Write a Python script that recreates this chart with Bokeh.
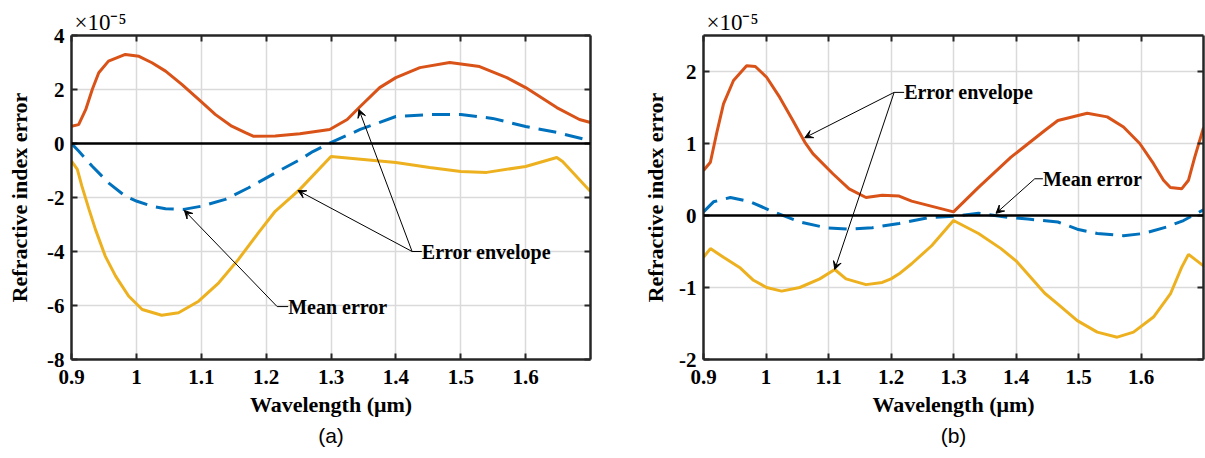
from bokeh.plotting import figure
from bokeh.layouts import row
from bokeh.models import (Range1d, FixedTicker, LinearAxis, Label, Arrow, VeeHead,
                          CustomJSTickFormatter, Span, Title)
from bokeh.embed import file_html
from bokeh.resources import INLINE

# ---------------- data (refractive index error in units of 1e-5) ----------------
x_ticks = [0.9, 1.0, 1.1, 1.2, 1.3, 1.4, 1.5, 1.6]
y_ticks_a = [-8, -6, -4, -2, 0, 2, 4]
y_ticks_b = [-2, -1, 0, 1, 2]

wl_a_upper = [0.900, 0.911, 0.922, 0.932, 0.942, 0.957, 0.983, 1.004, 1.024, 1.045, 1.070,
              1.096, 1.122, 1.147, 1.168, 1.180, 1.214, 1.252, 1.298, 1.325, 1.345, 1.375,
              1.400, 1.437, 1.483, 1.529, 1.571, 1.600, 1.648, 1.683, 1.700]
upper_a = [0.64, 0.70, 1.26, 2.00, 2.62, 3.05, 3.30, 3.23, 2.99, 2.68, 2.19,
           1.63, 1.07, 0.64, 0.40, 0.27, 0.28, 0.36, 0.52, 0.89, 1.37, 2.07,
           2.44, 2.81, 3.00, 2.85, 2.44, 2.07, 1.33, 0.89, 0.78]

wl_a_mean = [0.900, 0.911, 0.932, 0.957, 0.983, 1.001, 1.024, 1.045, 1.073, 1.101, 1.137,
             1.173, 1.214, 1.252, 1.272, 1.303, 1.345, 1.400, 1.452, 1.500, 1.549, 1.600,
             1.648, 1.700]
mean_a = [0.00, -0.28, -0.84, -1.46, -1.95, -2.14, -2.32, -2.42, -2.44, -2.32, -2.07,
          -1.64, -1.09, -0.60, -0.30, 0.07, 0.52, 1.00, 1.07, 1.07, 0.93, 0.63,
          0.41, 0.10]

wl_a_lower = [0.900, 0.909, 0.916, 0.927, 0.937, 0.952, 0.968, 0.988, 1.009, 1.039, 1.065,
              1.096, 1.127, 1.157, 1.188, 1.214, 1.252, 1.300, 1.400, 1.452, 1.500, 1.540,
              1.600, 1.648, 1.657, 1.700]
lower_a = [-0.65, -0.96, -1.58, -2.44, -3.19, -4.17, -4.91, -5.65, -6.15, -6.36, -6.27,
           -5.84, -5.16, -4.30, -3.31, -2.51, -1.70, -0.48, -0.70, -0.89, -1.04, -1.07,
           -0.85, -0.52, -0.67, -1.78]

wl_b_upper = [0.900, 0.911, 0.922, 0.932, 0.948, 0.969, 0.983, 1.001, 1.022, 1.043, 1.062,
              1.075, 1.107, 1.133, 1.160, 1.186, 1.213, 1.233, 1.300, 1.340, 1.392, 1.446,
              1.467, 1.514, 1.546, 1.572, 1.598, 1.620, 1.636, 1.647, 1.665, 1.676, 1.686,
              1.700]
upper_b = [0.625, 0.74, 1.18, 1.55, 1.875, 2.08, 2.07, 1.92, 1.64, 1.32, 1.02,
           0.86, 0.58, 0.37, 0.25, 0.28, 0.27, 0.20, 0.05, 0.39, 0.81, 1.18,
           1.32, 1.42, 1.37, 1.23, 1.00, 0.72, 0.49, 0.39, 0.37, 0.49, 0.81,
           1.22]

wl_b_mean = [0.900, 0.916, 0.943, 0.975, 1.012, 1.054, 1.096, 1.133, 1.170, 1.213, 1.260,
             1.300, 1.340, 1.392, 1.419, 1.467, 1.498, 1.530, 1.572, 1.604, 1.641, 1.668,
             1.700]
mean_b = [0.05, 0.19, 0.25, 0.19, 0.05, -0.09, -0.17, -0.19, -0.17, -0.11, -0.03,
          -0.01, 0.03, -0.03, -0.05, -0.09, -0.19, -0.25, -0.28, -0.25, -0.16, -0.07,
          0.08]

wl_b_lower = [0.900, 0.911, 0.932, 0.959, 0.980, 1.001, 1.025, 1.054, 1.086, 1.110, 1.128,
              1.160, 1.186, 1.200, 1.213, 1.233, 1.265, 1.300, 1.340, 1.376, 1.400, 1.446,
              1.467, 1.498, 1.530, 1.562, 1.588, 1.620, 1.647, 1.665, 1.676, 1.700]
lower_b = [-0.58, -0.46, -0.58, -0.73, -0.90, -1.00, -1.05, -1.00, -0.88, -0.75, -0.88,
           -0.96, -0.93, -0.88, -0.81, -0.67, -0.42, -0.07, -0.25, -0.46, -0.63, -1.08,
           -1.23, -1.46, -1.62, -1.69, -1.62, -1.41, -1.09, -0.72, -0.54, -0.70]

ORANGE = "#D95319"
BLUE = "#0072BD"
YELLOW = "#EDB120"
AX = "#262626"
GRID = "#dadada"
SERIF = "Liberation Serif"


def make_panel(width, bl, br, y_lo, y_hi, y_ticks, ylab_standoff):
    p = figure(width=width, height=458, output_backend="svg", toolbar_location=None,
               x_range=Range1d(0.9, 1.7), y_range=Range1d(y_lo, y_hi),
               min_border_left=bl, min_border_right=br, min_border_top=35,
               min_border_bottom=99, background_fill_color="white",
               border_fill_color="white", outline_line_color=None)
    p.xaxis.ticker = FixedTicker(ticks=x_ticks)
    p.yaxis.ticker = FixedTicker(ticks=y_ticks)
    p.xgrid.ticker = FixedTicker(ticks=x_ticks)
    p.ygrid.ticker = FixedTicker(ticks=y_ticks)
    p.xaxis.formatter = CustomJSTickFormatter(code="return String(Number(tick.toFixed(1)));")
    p.yaxis.formatter = CustomJSTickFormatter(code="return String(Math.round(tick));")
    for g in (p.xgrid, p.ygrid):
        g.grid_line_color = GRID
        g.grid_line_width = 1.5
    for ax in (p.xaxis, p.yaxis):
        ax.axis_line_color = AX
        ax.axis_line_width = 2.5
        ax.major_tick_line_color = AX
        ax.major_tick_line_width = 2
        ax.major_tick_in = 6
        ax.major_tick_out = 0
        ax.minor_tick_line_color = None
        ax.major_label_text_font = SERIF
        ax.major_label_text_font_style = "bold"
        ax.major_label_text_font_size = "21px"
        ax.major_label_text_color = "black"
        ax.axis_label_text_font = SERIF
        ax.axis_label_text_font_style = "bold"
        ax.axis_label_text_font_size = "22px"
        ax.axis_label_text_color = "black"
    p.xaxis.axis_label = "Wavelength (\u03bcm)"
    p.yaxis.axis_label = "Refractive index error"
    p.xaxis.major_label_standoff = 10
    p.xaxis.axis_label_standoff = 5
    p.yaxis.major_label_standoff = 7
    p.yaxis.axis_label_standoff = ylab_standoff
    for loc, tk in (("above", x_ticks), ("right", y_ticks)):
        a = LinearAxis(ticker=FixedTicker(ticks=tk),
                       formatter=CustomJSTickFormatter(code="return '';"),
                       axis_line_color=AX, axis_line_width=2.5,
                       major_tick_line_color=AX, major_tick_line_width=2,
                       major_tick_in=6, major_tick_out=0, minor_tick_line_color=None,
                       major_label_text_font_size="0px", major_label_standoff=0)
        p.add_layout(a, loc)
    p.add_layout(Span(location=0, dimension="width", line_color="black", line_width=2.5))
    return p


def add_curves(p, wu, u, wm, m, wl, l):
    p.line(wu, u, line_color=ORANGE, line_width=3)
    p.line(wl, l, line_color=YELLOW, line_width=3)
    p.line(wm, m, line_color=BLUE, line_width=3, line_dash="18 9")


def annotate(p, text, tx, ty, ex, targets):
    # elbow -> short lead to text; arrows from elbow to targets
    p.line([ex, tx], [ty, ty], line_color="black", line_width=1)
    for (x2, y2) in targets:
        p.add_layout(Arrow(end=VeeHead(size=8, line_color="black", fill_color="black",
                                       line_width=1),
                           x_start=ex, y_start=ty, x_end=x2, y_end=y2,
                           line_color="black", line_width=1))
    p.add_layout(Label(x=tx, y=ty, text=text, text_font=SERIF, text_font_style="bold",
                       text_font_size="20px", text_baseline="middle", text_align="left",
                       text_color="black"))


def texts(p, cap):
    p.title.text = "\u00d710\u207b\u2075"
    p.title.align = "left"
    p.title.offset = 3
    p.title.standoff = 2
    p.title.text_font = SERIF
    p.title.text_font_style = "normal"
    p.title.text_font_size = "23px"
    p.title.text_color = "black"
    p.add_layout(Title(text=cap, align="center", text_font="Liberation Sans",
                       text_font_style="normal", text_font_size="21px",
                       text_color="black", standoff=5), "below")


pa = make_panel(600, 71, 10, -8, 4, y_ticks_a, 12)
add_curves(pa, wl_a_upper, upper_a, wl_a_mean, mean_a, wl_a_lower, lower_a)
annotate(pa, "Error envelope", 1.440, -4.0, 1.425, [(1.343, 1.26), (1.249, -1.74)])
annotate(pa, "Mean error", 1.234, -6.04, 1.217, [(1.074, -2.48)])
texts(pa, "(a)")

pb = make_panel(605, 103, 2, -2, 2.5, y_ticks_b, 8)
add_curves(pb, wl_b_upper, upper_b, wl_b_mean, mean_b, wl_b_lower, lower_b)
annotate(pb, "Error envelope", 1.221, 1.71, 1.205, [(1.062, 1.08), (1.110, -0.75)])
annotate(pb, "Mean error", 1.443, 0.51, 1.430, [(1.368, 0.03)])
texts(pb, "(b)")

layout = row(pa, pb)
open("out.html", "w").write(file_html(layout, INLINE))
